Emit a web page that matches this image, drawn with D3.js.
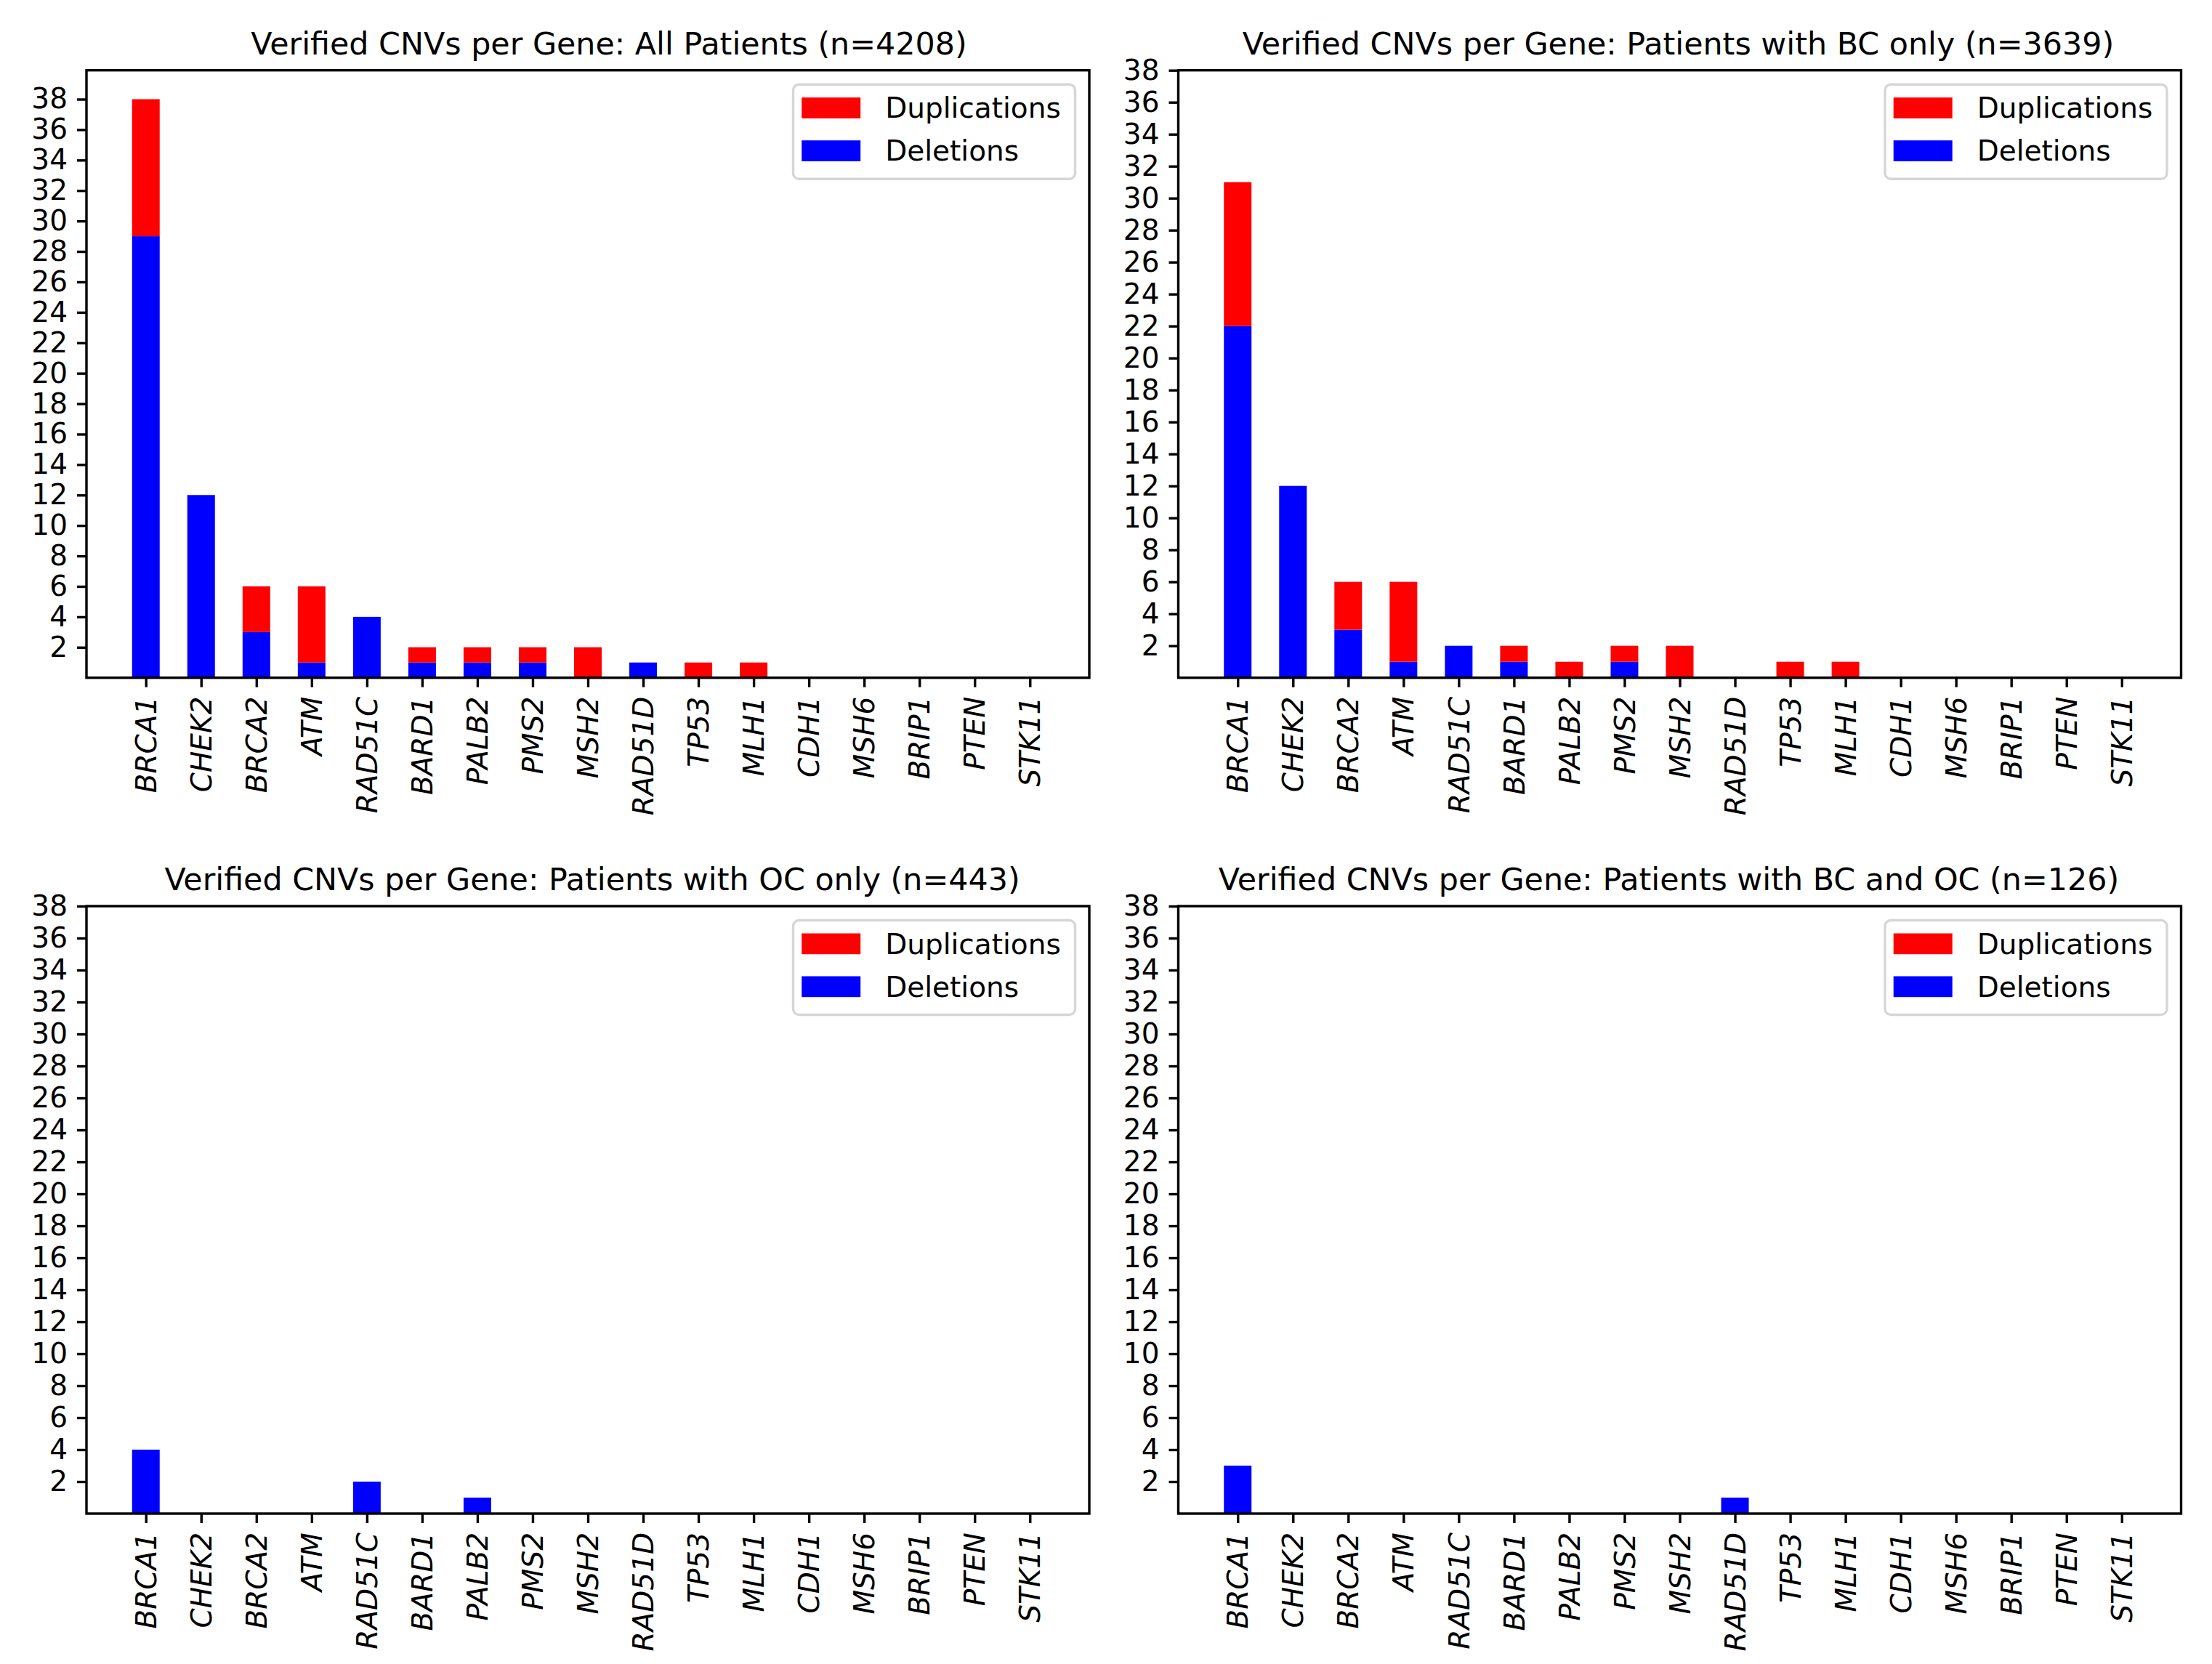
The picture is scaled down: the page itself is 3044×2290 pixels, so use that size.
<!DOCTYPE html>
<html>
<head>
<meta charset="utf-8">
<title>Verified CNVs per Gene</title>
<script src="https://cdn.jsdelivr.net/npm/d3@7"></script>
<style>
  body { margin: 0; background: #ffffff; }
  svg { display: block; font-family: "DejaVu Sans", sans-serif; }
</style>
</head>
<body>
<script>

// genes on the x axis, same order in every panel
var genes = ["BRCA1", "CHEK2", "BRCA2", "ATM", "RAD51C", "BARD1", "PALB2", "PMS2",
             "MSH2", "RAD51D", "TP53", "MLH1", "CDH1", "MSH6", "BRIP1", "PTEN", "STK11"];

// y tick labels
var yTicks = [2, 4, 6, 8, 10, 12, 14, 16, 18, 20, 22, 24, 26, 28, 30, 32, 34, 36, 38];

// panel titles
var titles = [
  "Verified CNVs per Gene: All Patients (n=4208)",
  "Verified CNVs per Gene: Patients with BC only (n=3639)",
  "Verified CNVs per Gene: Patients with OC only (n=443)",
  "Verified CNVs per Gene: Patients with BC and OC (n=126)"
];

// deletions (bottom of stack)
var delAll  = [29, 12, 3, 1, 4, 1, 1, 1, 0, 1, 0, 0, 0, 0, 0, 0, 0];
var delBC   = [22, 12, 3, 1, 2, 1, 0, 1, 0, 0, 0, 0, 0, 0, 0, 0, 0];
var delOC   = [ 4,  0, 0, 0, 2, 0, 1, 0, 0, 0, 0, 0, 0, 0, 0, 0, 0];
var delBCOC = [ 3,  0, 0, 0, 0, 0, 0, 0, 0, 1, 0, 0, 0, 0, 0, 0, 0];

// duplications (stacked on top)
var dupAll  = [9, 0, 3, 5, 0, 1, 1, 1, 2, 0, 1, 1, 0, 0, 0, 0, 0];
var dupBC   = [9, 0, 3, 5, 0, 1, 1, 1, 2, 0, 1, 1, 0, 0, 0, 0, 0];
var dupOC   = [0, 0, 0, 0, 0, 0, 0, 0, 0, 0, 0, 0, 0, 0, 0, 0, 0];
var dupBCOC = [0, 0, 0, 0, 0, 0, 0, 0, 0, 0, 0, 0, 0, 0, 0, 0, 0];

var seriesNames = ["Duplications", "Deletions"];
var seriesColours = ["#ff0000", "#0000ff"];

var panels = [
  { title: titles[0], del: delAll,  dup: dupAll  },
  { title: titles[1], del: delBC,   dup: dupBC   },
  { title: titles[2], del: delOC,   dup: dupOC   },
  { title: titles[3], del: delBCOC, dup: dupBCOC }
];

// layout (pixels)
var W = 3044, H = 2290;
var colX = [119, 1621.5];
var rowY = [96.7, 1247];
var axW = 1380, axH = 836;
var titleDx = [29, -2, 6, -15];
var tickFont = 39, titleFont = 42.8;
var tickLen = 13, tickPad = 13;
var lineW = 3.4;

var svg = d3.select("body").append("svg")
    .attr("width", W)
    .attr("height", H);

svg.append("rect").attr("width", W).attr("height", H).attr("fill", "#ffffff");

panels.forEach(function (p, k) {
  var ox = colX[k % 2], oy = rowY[Math.floor(k / 2)];
  var g = svg.append("g").attr("transform", "translate(" + ox + "," + oy + ")");

  // matplotlib style limits: bars of width 0.5, 5% margins
  var n = genes.length;
  var span = (n - 1) + 0.5;
  var x = d3.scaleLinear()
      .domain([-0.25 - span * 0.05, (n - 1) + 0.25 + span * 0.05])
      .range([0, axW]);

  var totals = p.del.map(function (d, i) { return d + p.dup[i]; });
  var yMax = Math.max(d3.max(yTicks), d3.max(totals) * 1.05);
  var y = d3.scaleLinear().domain([0, yMax]).range([axH, 0]);

  var rows = genes.map(function (gname, i) {
    return { i: i, del: p.del[i], dup: p.dup[i] };
  });
  var barW = x(0.5) - x(0);

  // deletions
  g.selectAll("rect.del").data(rows).enter().append("rect")
      .attr("class", "del")
      .attr("x", function (d) { return x(d.i) - barW / 2; })
      .attr("width", barW)
      .attr("y", function (d) { return y(d.del); })
      .attr("height", function (d) { return y(0) - y(d.del); })
      .attr("fill", seriesColours[1]);

  // duplications on top
  g.selectAll("rect.dup").data(rows).enter().append("rect")
      .attr("class", "dup")
      .attr("x", function (d) { return x(d.i) - barW / 2; })
      .attr("width", barW)
      .attr("y", function (d) { return y(d.del + d.dup); })
      .attr("height", function (d) { return y(d.del) - y(d.del + d.dup); })
      .attr("fill", seriesColours[0]);

  // y axis
  var yAxis = g.append("g")
      .call(d3.axisLeft(y).tickValues(yTicks).tickSize(tickLen).tickPadding(tickPad)
            .tickFormat(d3.format("d")));
  yAxis.select(".domain").remove();
  yAxis.selectAll("line").attr("stroke", "#000").attr("stroke-width", lineW);
  yAxis.selectAll("text")
      .attr("font-size", tickFont)
      .attr("font-family", "DejaVu Sans")
      .attr("fill", "#000");

  // x axis
  var xAxis = g.append("g")
      .attr("transform", "translate(0," + axH + ")")
      .call(d3.axisBottom(x).tickValues(d3.range(n)).tickSize(tickLen)
            .tickFormat(function (i) { return genes[i]; }));
  xAxis.select(".domain").remove();
  xAxis.selectAll("line").attr("stroke", "#000").attr("stroke-width", lineW);
  xAxis.selectAll("text")
      .attr("y", 0)
      .attr("x", 0)
      .attr("dy", "0.35em")
      .attr("transform", "translate(0," + (tickLen + tickPad) + ") rotate(-90)")
      .attr("text-anchor", "end")
      .attr("font-size", tickFont)
      .attr("font-style", "italic")
      .attr("font-family", "DejaVu Sans")
      .attr("fill", "#000");

  // frame
  g.append("rect")
      .attr("width", axW).attr("height", axH)
      .attr("fill", "none")
      .attr("stroke", "#000")
      .attr("stroke-width", lineW);

  // title
  g.append("text")
      .attr("x", axW / 2 + titleDx[k])
      .attr("y", -22)
      .attr("text-anchor", "middle")
      .attr("font-size", titleFont)
      .attr("fill", "#000")
      .text(p.title);

  // legend, upper right
  var lgW = 388, lgH = 130;
  var lg = g.append("g")
      .attr("transform", "translate(" + (axW - 19.5 - lgW) + "," + 19.5 + ")");
  lg.append("rect")
      .attr("width", lgW).attr("height", lgH)
      .attr("rx", 8).attr("ry", 8)
      .attr("fill", "#ffffff").attr("fill-opacity", 0.8)
      .attr("stroke", "#d6d6d6").attr("stroke-width", 3.4);
  var items = lg.selectAll("g.item").data(seriesNames).enter().append("g")
      .attr("class", "item")
      .attr("transform", function (d, i) { return "translate(0," + (i * 59) + ")"; });
  items.append("rect")
      .attr("x", 11.7).attr("y", 18)
      .attr("width", 81).attr("height", 28.7)
      .attr("fill", function (d, i) { return seriesColours[i]; });
  items.append("text")
      .attr("x", 126.7).attr("y", 46.3)
      .attr("font-size", tickFont)
      .attr("fill", "#000")
      .text(function (d) { return d; });
});

</script>
</body>
</html>
